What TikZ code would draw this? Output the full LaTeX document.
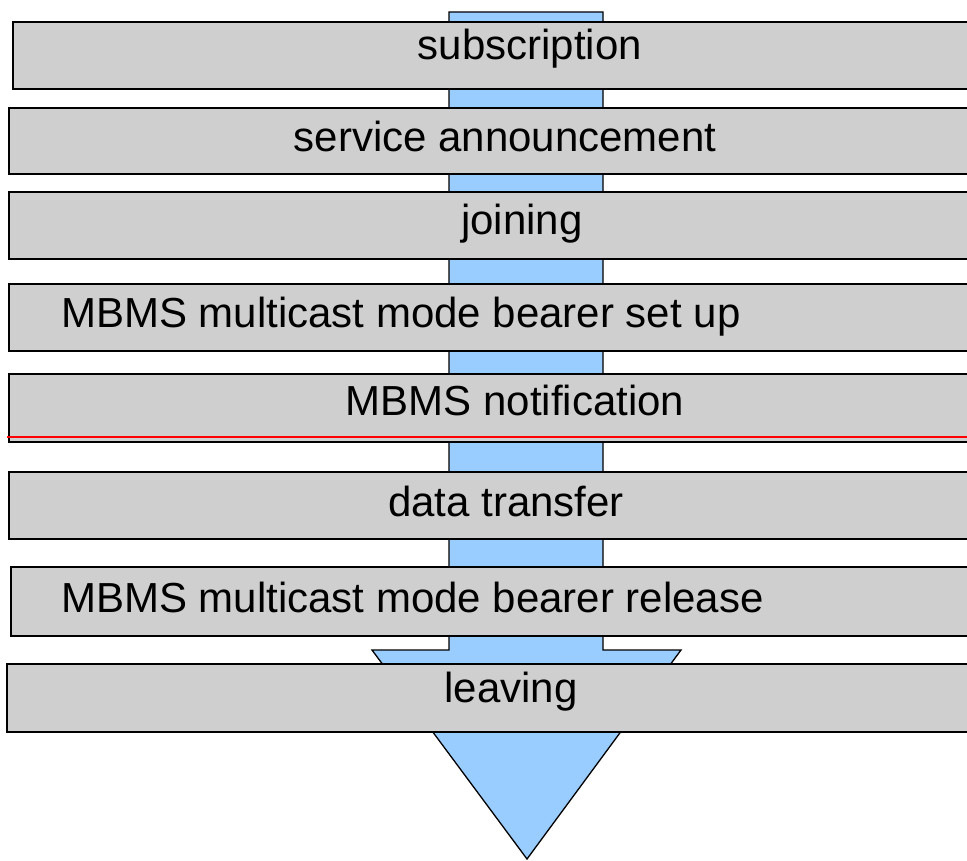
\documentclass[tikz,border=0pt]{standalone}
\usepackage{fontspec}
\setmainfont{Liberation Sans}
\definecolor{boxgray}{HTML}{CFCFCF}
\definecolor{arrowblue}{HTML}{99CCFF}
\begin{document}
\begin{tikzpicture}[x=1pt,y=-1pt,
  stagebox/.style={draw=black, line width=1.5pt, fill=boxgray, anchor=north west,
    inner sep=0pt, outer sep=0pt},
  stagelabel/.style={anchor=base, inner sep=0pt, font=\fontsize{42}{50}\selectfont},
  flowarrow/.style={draw=black, line width=1.3pt, fill=arrowblue, line join=miter}]
\useasboundingbox (0,0) rectangle (967,861);
\clip (0,0) rectangle (967,861);
% big arrow behind the boxes
\coordinate (a1) at (449,12);
\coordinate (a2) at (603,12);
\coordinate (a3) at (603,650);
\coordinate (a4) at (681,650);
\coordinate (tip) at (527,859);
\coordinate (a6) at (372,650);
\coordinate (a7) at (449,650);
\draw[flowarrow] (a1) -- (a2) -- (a3) -- (a4) -- (tip) -- (a6) -- (a7) -- cycle;
% stage boxes
\node[stagebox, minimum width=962pt, minimum height=67pt] (b1) at (13,22) {};
\node[stagebox, minimum width=966pt, minimum height=66pt] (b2) at (9,108) {};
\node[stagebox, minimum width=966pt, minimum height=67pt] (b3) at (9,192) {};
\node[stagebox, minimum width=966pt, minimum height=67pt] (b4) at (9,284) {};
\node[stagebox, minimum width=966pt, minimum height=68pt] (b5) at (9,374) {};
\node[stagebox, minimum width=966pt, minimum height=67pt] (b6) at (9,472) {};
\node[stagebox, minimum width=964pt, minimum height=69pt] (b7) at (11,567) {};
\node[stagebox, minimum width=968pt, minimum height=68pt] (b8) at (7,664) {};
% red line in the notification box
\coordinate (r1) at (7,437);
\coordinate (r2) at (975,437);
\draw[red, line width=1.5pt] (r1) -- (r2);
% labels
\node[stagelabel] (t1) at (530,60) {subscription};
\node[stagelabel] (t2) at (505,152) {service announcement};
\node[stagelabel] (t3) at (522,235) {joining};
\node[stagelabel, anchor=base west] (t4) at (61,327) {MBMS multicast mode bearer set up};
\node[stagelabel] (t5) at (515,415) {MBMS notification};
\node[stagelabel] (t6) at (506,516) {data transfer};
\node[stagelabel, anchor=base west] (t7) at (61,612) {MBMS multicast mode bearer release};
\node[stagelabel] (t8) at (511,702) {leaving};
\end{tikzpicture}
\end{document}
